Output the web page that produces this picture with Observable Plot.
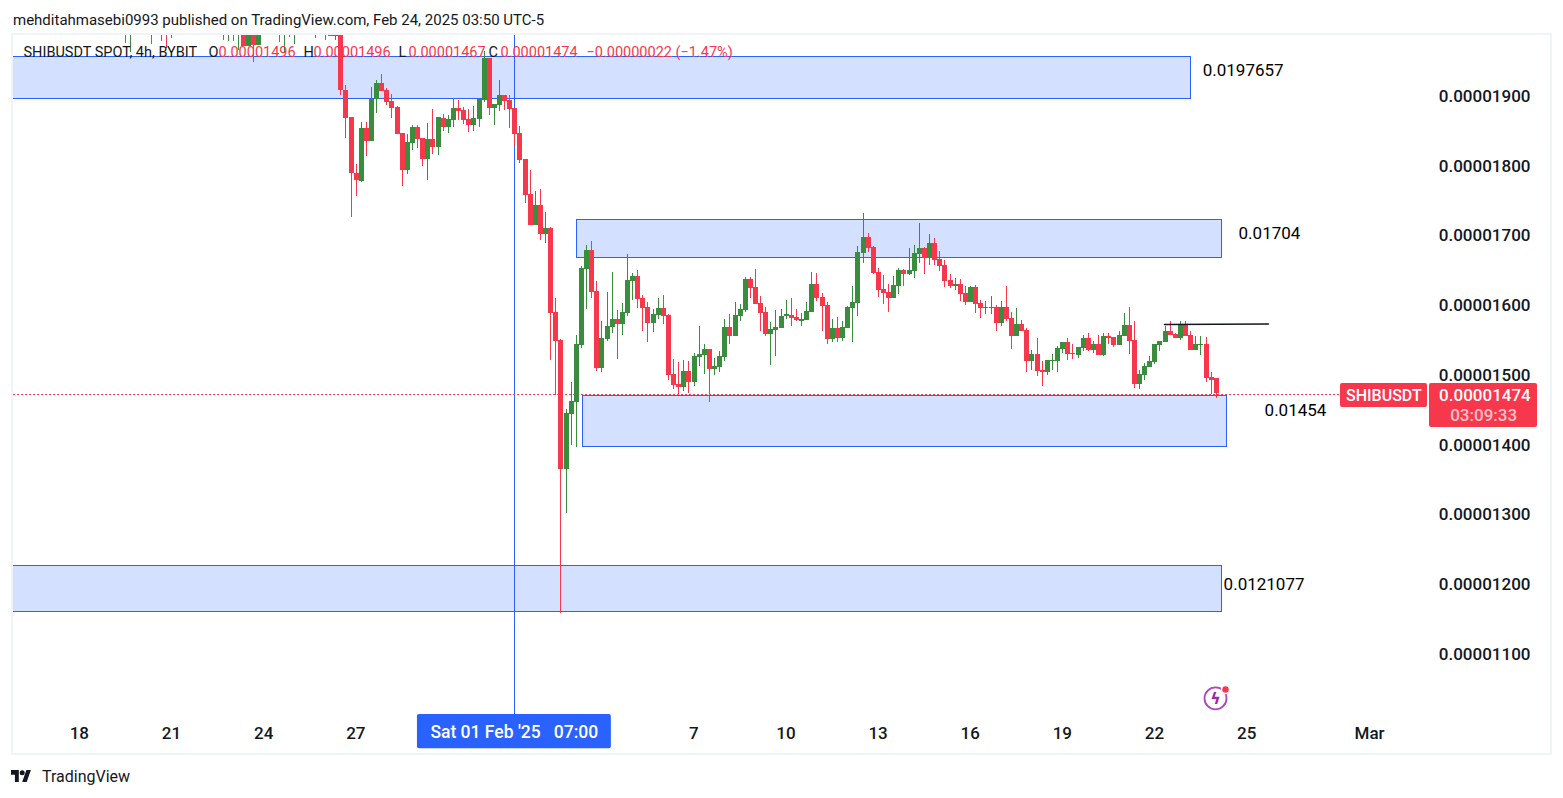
<!DOCTYPE html>
<html><head><meta charset="utf-8">
<script src="https://cdn.jsdelivr.net/npm/d3@7"></script>
<script src="https://cdn.jsdelivr.net/npm/@observablehq/plot@0.6"></script>
<style>
html,body{margin:0;padding:0;background:#fff;overflow:hidden}
body{font-family:Roboto,"Liberation Sans",sans-serif;color:#131722;width:1563px;height:798px;position:relative}
#head{height:33px;line-height:40px;padding-left:13px;font-size:15px;white-space:nowrap}
#frame{position:absolute;left:11px;top:33px;width:1537px;height:718px;border:2px solid #f0f3fa}
#chart{position:relative}
#chart svg{display:block}
#foot{position:absolute;left:11px;top:768px;height:16px;display:flex;align-items:center;font-size:16px}
#logo{width:20px;height:13px;background:#131722;margin-right:11px;clip-path:path("M7.8 12.6H3.9V5.2H0V.5h7.8zM15.7 12.6H11.2L15.4.5h4.5zM13.7 3.2a2.5 2.5 0 1 1-5 0a2.5 2.5 0 1 1 5 0z")}
</style></head><body>
<div id="head">mehditahmasebi0993 published on TradingView.com, Feb 24, 2025 03:50 UTC-5</div>
<div id="frame"></div>
<div id="chart"></div>
<div id="foot"><span id="logo"></span>TradingView</div>
<script>
// Prices are in units of 0.00000001 USDT.
const opens = [2010,1909,1870,1789,1778,1854,1836,1895,1919,1909,1893,1884,1847,1794,1833,1855,1840,1810,1838,1827,1869,1855,1866,1883,1880,1867,1858,1867,1894,1954,1883,1887,1901,1894,1883,1847,1810,1759,1715,1744,1702,1711,
1590,1550,1365,1444,1461,1543,1652,1679,1620,1510,1552,1569,1580,1573,1589,1635,1642,1610,1598,1575,1586,1596,1586,1501,1487,1483,1506,1490,1526,1529,1537,1509,1511,1526,1569,1556,1585,1593,1638,1626,1603,1590,
1559,1564,1567,1585,1586,1583,1578,1579,1590,1630,1612,1600,1552,1567,1553,1567,1596,1603,1675,1698,1684,1648,1623,1619,1610,1628,1650,1645,1649,1673,1682,1668,1689,1666,1658,1636,1628,1630,1618,1605,1626,1603,1596,1596,1597,
1575,1597,1582,1556,1573,1565,1520,1530,1507,1504,1520,1520,1537,1547,1532,1529,1539,1553,1536,1544,1529,1556,1554,1543,1556,1572,1550,1487,1500,1511,1519,1543,1547,1563,1559,1553,1573,1557,1536,1543,1544,1497,1496];
const highs = [2030,1916,1870,1803,1863,1863,1913,1923,1932,1911,1903,1886,1847,1846,1859,1859,1840,1861,1881,1870,1874,1873,1897,1894,1884,1882,1886,1897,1964,1954,1888,1923,1901,1901,1883,1857,1810,1794,1764,1767,1734,1712,
1610,1552,1451,1490,1557,1656,1686,1692,1635,1577,1619,1648,1593,1603,1673,1646,1650,1615,1605,1595,1610,1615,1587,1523,1519,1522,1520,1532,1570,1544,1537,1524,1534,1580,1587,1605,1602,1640,1640,1652,1613,1597,
1576,1593,1595,1607,1610,1595,1589,1605,1648,1646,1617,1605,1580,1583,1577,1599,1628,1685,1732,1704,1685,1653,1643,1630,1642,1653,1652,1682,1686,1718,1684,1702,1696,1678,1665,1645,1639,1638,1628,1628,1629,1607,1606,1613,1600,
1606,1628,1590,1596,1579,1567,1536,1553,1520,1522,1530,1542,1547,1553,1544,1540,1557,1560,1549,1557,1560,1560,1554,1563,1589,1598,1577,1507,1517,1527,1544,1549,1570,1577,1560,1577,1577,1563,1556,1556,1554,1504,1496];
const lows = [1901,1840,1727,1756,1777,1814,1836,1876,1907,1887,1869,1845,1771,1788,1822,1826,1800,1779,1817,1815,1850,1847,1855,1866,1860,1848,1850,1855,1892,1873,1858,1878,1880,1854,1830,1804,1747,1715,1715,1694,1689,1521,
1471,1159,1302,1400,1397,1539,1595,1610,1506,1504,1549,1560,1523,1557,1585,1608,1596,1563,1547,1562,1580,1573,1493,1480,1471,1477,1474,1484,1513,1501,1461,1500,1504,1520,1544,1556,1577,1590,1610,1602,1563,1556,
1514,1527,1567,1581,1570,1577,1570,1579,1590,1606,1563,1544,1547,1547,1549,1567,1547,1585,1661,1676,1645,1612,1602,1590,1610,1616,1628,1643,1639,1661,1645,1658,1658,1649,1626,1625,1622,1606,1600,1605,1589,1582,1587,1587,1563,
1570,1577,1537,1556,1563,1504,1507,1499,1484,1500,1507,1504,1531,1522,1523,1524,1534,1534,1531,1529,1527,1544,1540,1543,1556,1530,1481,1480,1493,1511,1516,1534,1547,1557,1553,1550,1556,1536,1536,1529,1490,1473,1467];
const closes = [1908,1869,1789,1779,1854,1836,1896,1919,1907,1892,1883,1845,1794,1834,1855,1838,1810,1838,1827,1870,1855,1867,1883,1878,1866,1858,1868,1896,1954,1883,1888,1901,1893,1881,1845,1808,1758,1715,1744,1702,1711,1589,
1549,1365,1445,1463,1544,1653,1679,1619,1510,1553,1570,1580,1573,1590,1636,1642,1609,1596,1575,1587,1596,1585,1500,1486,1483,1506,1490,1527,1530,1537,1509,1513,1527,1569,1556,1586,1595,1638,1625,1602,1589,1559,
1566,1569,1585,1587,1582,1579,1580,1592,1630,1610,1599,1552,1567,1553,1569,1597,1605,1676,1698,1682,1646,1622,1618,1610,1629,1650,1645,1650,1675,1682,1668,1689,1665,1656,1635,1628,1630,1616,1605,1626,1602,1596,1598,1598,1575,
1597,1580,1556,1573,1563,1520,1530,1506,1504,1522,1522,1539,1547,1530,1530,1540,1553,1536,1544,1529,1556,1553,1543,1557,1572,1549,1487,1501,1513,1520,1544,1549,1563,1557,1553,1573,1556,1536,1544,1545,1496,1493,1474];

// Older candles whose lower ends hang into the top of the pane.
const earlySteps  = [42,41,37,35,34,33,23,22,21,20,19,18,17,16,12,11,10,9,5,3,2,1];
const earlyOpens  = [2010,2000,2010,2010,2010,2000,2010,2000,2010,2000,2010,1972,2010,1973,2010,2000,2010,2000,2000,2010,2010,1986];
const earlyLows   = [1976,1963,1975,1979,1969,1983,1980,1979,1979,1966,1972,1972,1949,1973,1978,1962,1985,1975,1983,1980,1986,1980];
const earlyCloses = [2000,2010,2000,2000,2000,2010,2000,2010,2000,2010,1972,2010,1973,2010,2000,2010,2000,2010,2010,2000,1986,2010];
const earlyHigh = 2020;

const lastCandle = Date.UTC(2025,1,24,3);
const H4 = 4*3600e3;
const main = opens.map((o,i)=>({t:new Date(lastCandle-(opens.length-1-i)*H4),o,h:highs[i],l:lows[i],c:closes[i]}));
const early = earlySteps.map((s,i)=>({t:new Date(lastCandle-(opens.length-1+s)*H4),o:earlyOpens[i],h:earlyHigh,l:earlyLows[i],c:earlyCloses[i]}));
const candles = early.concat(main);

const UP="#388e3c", DOWN="#f7374b", BLUE="#2962ff", BOX="#d4e0ff", INK="#131722";
const d=s=>new Date(s+"Z");

const zones = [
 {x1:d("2025-01-10T00:00"),x2:d("2025-02-23T06:30"),y1:1957,y2:1897},
 {x1:d("2025-02-03T07:30"),x2:d("2025-02-24T07:27"),y1:1723,y2:1669},
 {x1:d("2025-02-03T11:30"),x2:d("2025-02-24T11:20"),y1:1471,y2:1398},
 {x1:d("2025-01-10T00:00"),x2:d("2025-02-24T07:27"),y1:1227,y2:1161}
];
const zoneLabels = [
 {x:d("2025-02-23T16:00"),y:1937,text:"0.0197657"},
 {x:d("2025-02-24T20:00"),y:1704,text:"0.01704"},
 {x:d("2025-02-25T16:20"),y:1450,text:"0.01454"},
 {x:d("2025-02-24T08:20"),y:1200,text:"0.0121077"}
];
const trendLine = [{x:d("2025-02-22T10:08"),y:1573},{x:d("2025-02-25T19:23"),y:1574}];
const lastPrice = 1474;
const crosshair = d("2025-02-01T06:10");

const priceTicks = [1100,1200,1300,1400,1500,1600,1700,1800,1900];
const dayTicks = ["2025-01-18","2025-01-21","2025-01-24","2025-01-27","2025-02-07","2025-02-10","2025-02-13","2025-02-16","2025-02-19","2025-02-22","2025-02-25","2025-03-01"];
const dayLabels = ["18","21","24","27","7","10","13","16","19","22","25","Mar"];
const dayDates = dayTicks.map(s=>new Date(s+"T00:00Z"));

const legendTexts = ["SHIBUSDT SPOT, 4h, BYBIT","O","0.00001496","H","0.00001496","L","0.00001467","C","0.00001474","\u22120.00000022 (\u22121.47%)"];
const legendIsPrice = [false,false,true,false,true,false,true,false,true,true];
const legendOffsets = [10,195,205,290,300,385,395,475,487,573];

const FONT='Roboto,"Liberation Sans",sans-serif';
const crisp={shapeRendering:"crispEdges"};
const plot = Plot.plot({
  width:1563, height:722,
  marginLeft:13, marginRight:13, marginTop:2, marginBottom:41,
  style:{fontFamily:FONT,fontSize:"17px",color:INK,background:"transparent",overflow:"visible"},
  x:{type:"utc",domain:[d("2025-01-15T22:55"),d("2025-03-06T23:43")],label:null},
  y:{domain:[1014,1987.46],label:null},
  marks:[
    Plot.rect(zones,{x1:"x1",x2:"x2",y1:"y1",y2:"y2",fill:BOX,stroke:BLUE,strokeWidth:1,clip:true,...crisp}),
    Plot.ruleX([crosshair],{stroke:BLUE,strokeWidth:1,...crisp}),
    Plot.ruleY([lastPrice],{x1:d("2025-01-15T22:55"),x2:d("2025-02-28T03:39"),stroke:DOWN,strokeWidth:1,strokeDasharray:"2,2",dy:1,...crisp}),
    Plot.ruleX(candles,{x:"t",y1:"l",y2:"h",stroke:c=>c.c>=c.o?UP:DOWN,strokeWidth:1,dx:-0.5,clip:true,...crisp}),
    Plot.ruleX(candles,{x:"t",y1:"o",y2:"c",stroke:c=>c.c>=c.o?UP:DOWN,strokeWidth:5,dx:-0.5,clip:true,...crisp}),
    Plot.line(trendLine,{x:"x",y:"y",stroke:INK,strokeWidth:1.5}),
    Plot.text(zoneLabels,{x:"x",y:"y",text:"text",textAnchor:"start",fontSize:17,fill:"#000"}),
    ...legendTexts.map((t,i)=>Plot.text([t],{frameAnchor:"top-left",dx:legendOffsets[i],dy:11,fill:legendIsPrice[i]?DOWN:INK,textAnchor:"start",fontSize:14.5})),
    Plot.axisY(priceTicks,{anchor:"right",tickSize:0,tickPadding:-20,textAnchor:"end",tickFormat:v=>(v/1e8).toFixed(8),label:null,fontSize:17,fontWeight:500,fill:INK}),
    Plot.axisX(dayDates,{tickSize:0,tickPadding:12,dx:3,tickFormat:(v,i)=>dayLabels[i],label:null,fontSize:17,fontWeight:500,fill:INK}),
    // crosshair time tag
    Plot.rect([{}],{x1:d("2025-01-29T02:30"),x2:d("2025-02-04T10:00"),y1:1014,y2:965,fill:BLUE,rx:2,clip:false}),
    Plot.text(["Sat 01 Feb '25   07:00"],{x:crosshair,y:988,fill:"#fff",fontSize:17.5,fontWeight:500,clip:false}),
    // last-price tags
    Plot.rect([{}],{x1:d("2025-02-28T03:39"),x2:d("2025-03-02T23:37"),y1:1488.5,y2:1454,fill:DOWN,rx:2}),
    Plot.rect([{}],{x1:d("2025-03-03T01:10"),x2:d("2025-03-06T13:34"),y1:1488.5,y2:1425.5,fill:DOWN,rx:2}),
    Plot.text(["SHIBUSDT"],{x:d("2025-03-01T13:30"),y:1471,fill:"#fff",fontSize:16,fontWeight:500}),
    Plot.text(["0.00001474"],{x:d("2025-03-04T20:30"),y:1471,fill:"#fff",fontSize:17,fontWeight:500}),
    Plot.text(["03:09:33"],{x:d("2025-03-04T19:30"),y:1443,fill:"#fff",fillOpacity:.7,fontSize:17,fontWeight:500}),
    // flash icon
    Plot.dot([{}],{x:d("2025-02-24T02:00"),y:1037,r:11,stroke:"#ab47bc",strokeWidth:1.8,fill:"#fff"}),
    Plot.text(["\u03DF"],{x:d("2025-02-24T02:00"),y:1037,fill:"#9c27b0",fontSize:16,fontWeight:700,fontFamily:"DejaVu Sans"}),
    Plot.dot([{}],{x:d("2025-02-24T09:48"),y:1050,r:4,fill:DOWN,stroke:"#fff",strokeWidth:1.5})
  ]
});
document.getElementById("chart").append(plot);
</script>
</body></html>
